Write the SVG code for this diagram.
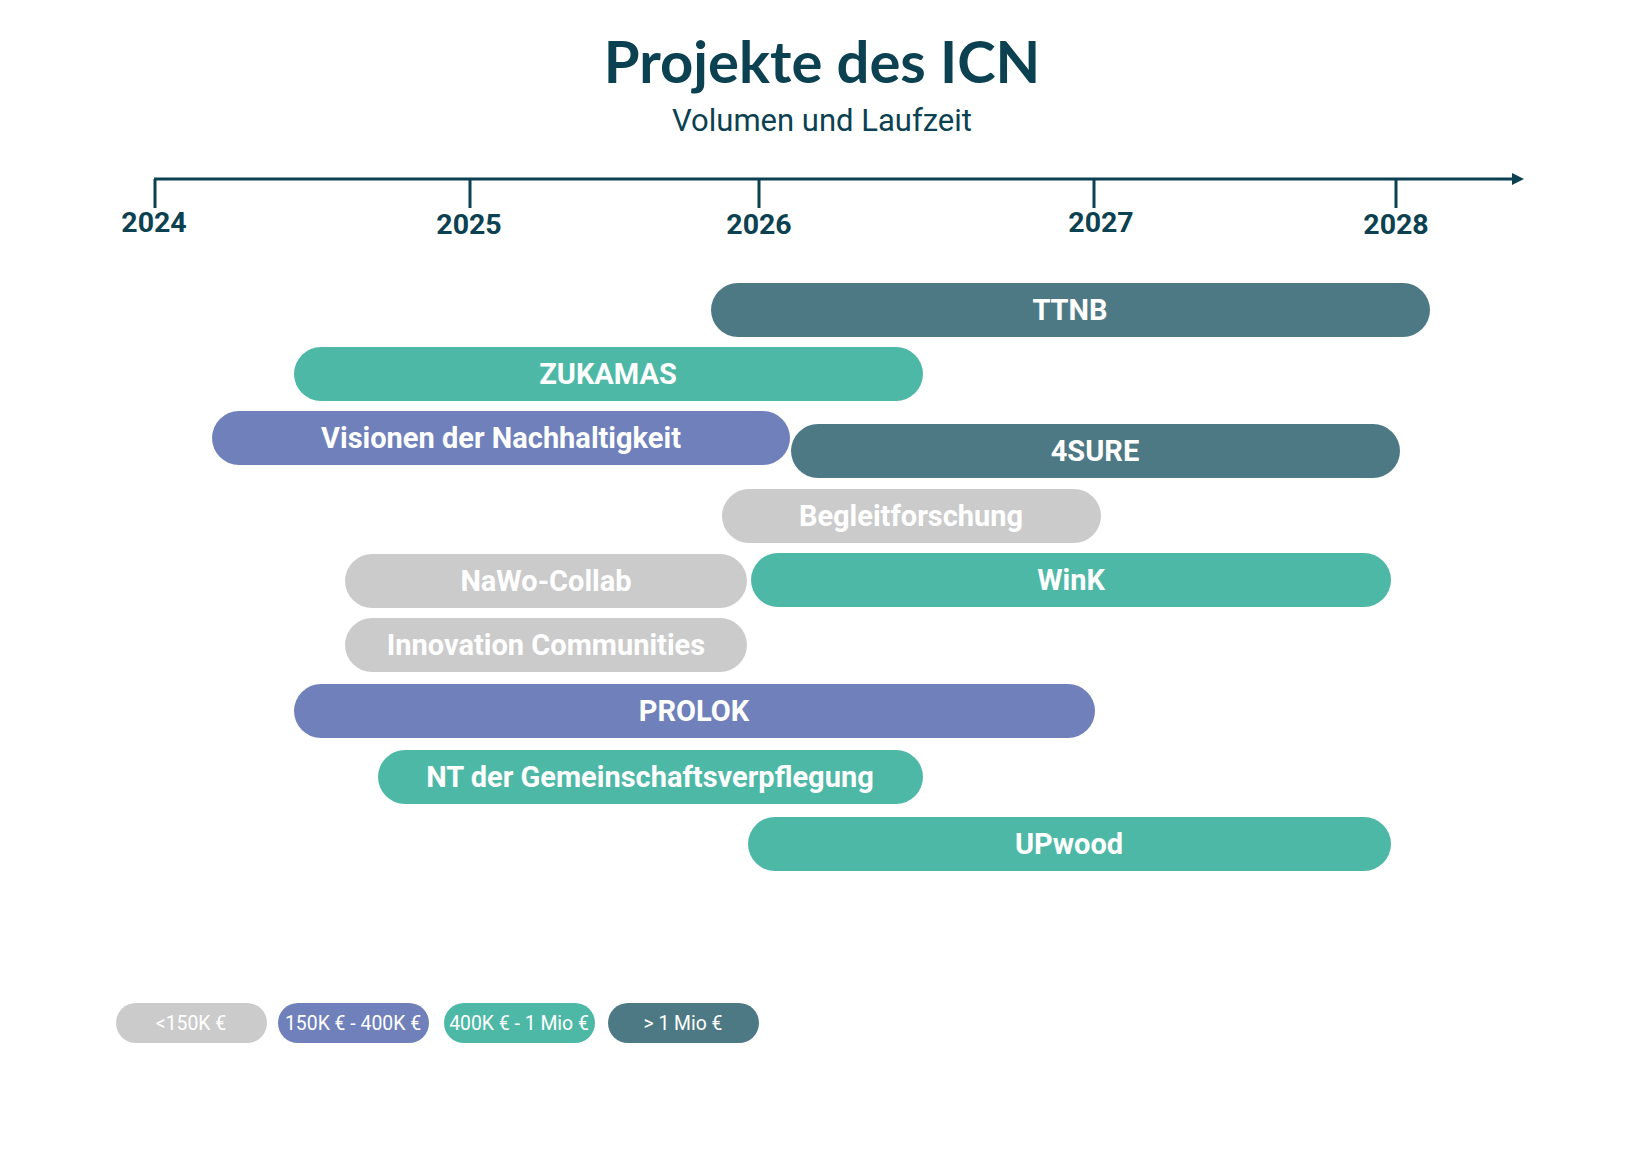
<svg xmlns="http://www.w3.org/2000/svg" width="1634" height="1155" viewBox="0 0 1634 1155">
<style>
.title{font-family:Lato,"Noto Sans",sans-serif;font-weight:700;font-size:58px;fill:#0b4150}
.sub{font-family:Roboto,"Liberation Sans",sans-serif;font-size:31px;fill:#0b4150}
.year{font-family:Roboto,"Liberation Sans",sans-serif;font-weight:700;font-size:28.5px;fill:#0b4150;text-anchor:middle}
.axis{stroke:#0b4150;stroke-width:3;fill:none}
.lbl{font-family:Roboto,"Liberation Sans",sans-serif;font-weight:700;font-size:29px;fill:#ffffff;text-anchor:middle}
.leg{font-family:Roboto,"Liberation Sans",sans-serif;font-size:19.4px;fill:#ffffff;text-anchor:middle}
.c0{fill:#cbcbcb}.c1{fill:#6f80bb}.c2{fill:#4db8a6}.c3{fill:#4d7984}
</style>
<rect width="1634" height="1155" fill="#ffffff"/>
<g id="header">
<text class="title" x="822" y="83" text-anchor="middle">Projekte des ICN</text>
<text class="sub" x="822" y="131" text-anchor="middle">Volumen und Laufzeit</text>
</g>
<g id="axis">
<line class="axis" x1="154" y1="179" x2="1515" y2="179"/>
<polygon points="1512,173 1524,179 1512,185" fill="#0b4150"/>
<line class="axis" x1="155" y1="179" x2="155" y2="208"/>
<line class="axis" x1="470" y1="179" x2="470" y2="208"/>
<line class="axis" x1="759" y1="179" x2="759" y2="208"/>
<line class="axis" x1="1094" y1="179" x2="1094" y2="208"/>
<line class="axis" x1="1396" y1="179" x2="1396" y2="208"/>
<text class="year" x="154" y="232">2024</text>
<text class="year" x="469" y="234">2025</text>
<text class="year" x="759" y="234">2026</text>
<text class="year" x="1101" y="232">2027</text>
<text class="year" x="1396" y="234">2028</text>
</g>
<g id="TTNB"><rect class="c3" x="711" y="283" width="719" height="54" rx="27"/><text class="lbl" x="1070" y="320">TTNB</text></g>
<g id="ZUKAMAS"><rect class="c2" x="294" y="347" width="629" height="54" rx="27"/><text class="lbl" x="608" y="384">ZUKAMAS</text></g>
<g id="Visionen"><rect class="c1" x="212" y="411" width="578" height="54" rx="27"/><text class="lbl" x="501" y="448">Visionen der Nachhaltigkeit</text></g>
<g id="4SURE"><rect class="c3" x="791" y="424" width="609" height="54" rx="27"/><text class="lbl" x="1095" y="461">4SURE</text></g>
<g id="Begleitforschung"><rect class="c0" x="722" y="489" width="379" height="54" rx="27"/><text class="lbl" x="911" y="526">Begleitforschung</text></g>
<g id="NaWo-Collab"><rect class="c0" x="345" y="554" width="402" height="54" rx="27"/><text class="lbl" x="546" y="591">NaWo-Collab</text></g>
<g id="WinK"><rect class="c2" x="751" y="553" width="640" height="54" rx="27"/><text class="lbl" x="1071" y="590">WinK</text></g>
<g id="InnovationCommunities"><rect class="c0" x="345" y="618" width="402" height="54" rx="27"/><text class="lbl" x="546" y="655">Innovation Communities</text></g>
<g id="PROLOK"><rect class="c1" x="294" y="684" width="801" height="54" rx="27"/><text class="lbl" x="694" y="721">PROLOK</text></g>
<g id="NT"><rect class="c2" x="378" y="750" width="545" height="54" rx="27"/><text class="lbl" x="650" y="787">NT der Gemeinschaftsverpflegung</text></g>
<g id="UPwood"><rect class="c2" x="748" y="817" width="643" height="54" rx="27"/><text class="lbl" x="1069" y="854">UPwood</text></g>
<g id="legend">
<g id="leg0"><rect class="c0" x="116" y="1003" width="151" height="40" rx="20"/><text class="leg" x="191" y="1030">&lt;150K €</text></g>
<g id="leg1"><rect class="c1" x="278" y="1003" width="151" height="40" rx="20"/><text class="leg" x="353" y="1030">150K € - 400K €</text></g>
<g id="leg2"><rect class="c2" x="444" y="1003" width="151" height="40" rx="20"/><text class="leg" x="519" y="1030">400K € - 1 Mio €</text></g>
<g id="leg3"><rect class="c3" x="608" y="1003" width="151" height="40" rx="20"/><text class="leg" x="683" y="1030">&gt; 1 Mio €</text></g>
</g>
</svg>
